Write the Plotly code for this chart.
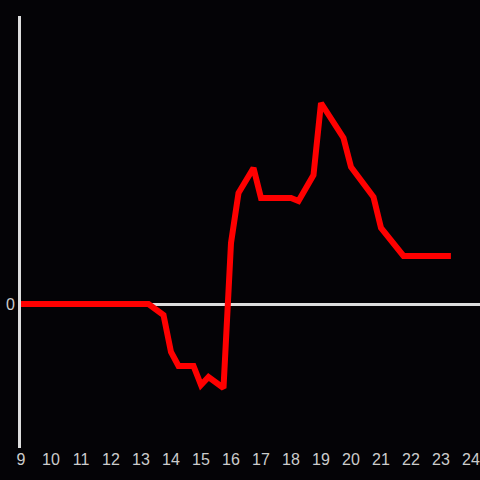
import plotly.graph_objects as go

hours = [9, 10, 11, 12, 13, 13.25, 13.75, 14.0, 14.25, 14.75, 15.0, 15.25, 15.75,
         16.0, 16.25, 16.75, 17.0, 18.0, 18.25, 18.75, 19.0, 19.75, 20.0, 20.75,
         21.0, 21.75, 23.33]
values = [0, 0, 0, 0, 0, 0, -11, -48, -62, -62, -81, -73, -84,
          61, 111, 136, 106, 106, 103, 129, 201, 166, 137, 107,
          76, 48, 48]
x_ticks = list(range(9, 25))

fig = go.Figure()
fig.add_trace(go.Scatter(x=hours, y=values, mode="lines",
                         line=dict(color="#ff0000", width=6), hoverinfo="skip"))

fig.update_layout(
    width=480, height=480,
    margin=dict(l=21, r=0, t=16, b=32, autoexpand=False),
    paper_bgcolor="#040306", plot_bgcolor="#040306",
    showlegend=False,
    font=dict(family="Liberation Sans, Arial, sans-serif", size=16, color="#cccccc"),
    xaxis=dict(range=[9, 24.3], tickvals=x_ticks, ticktext=[str(t) for t in x_ticks],
               showgrid=False, zeroline=False, showline=False, ticks="",
               automargin=False, tickfont=dict(size=16)),
    yaxis=dict(range=[-144, 288], tickvals=[0], ticktext=["0"], showgrid=False,
               zeroline=True, zerolinecolor="#dddddd", zerolinewidth=3,
               showline=True, linecolor="#dddddd", linewidth=3, ticks="",
               automargin=False, tickfont=dict(size=16)),
)
fig.write_html("out.html", config={"displayModeBar": False},
               post_script="document.body.style.margin='0';")
